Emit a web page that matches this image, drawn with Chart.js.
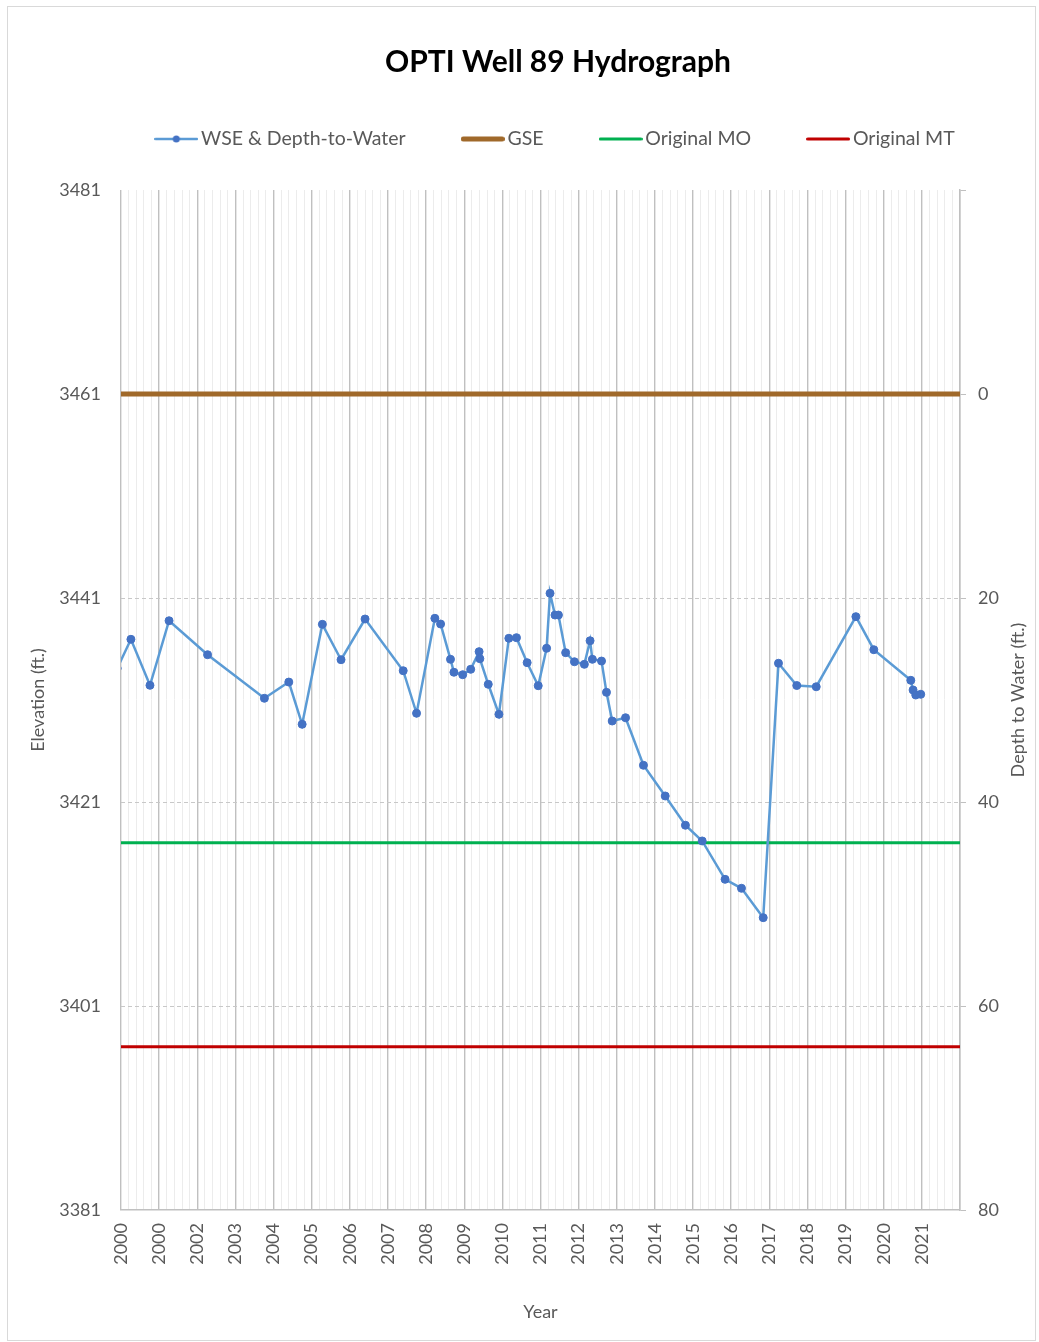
<!DOCTYPE html>
<html>
<head>
<meta charset="utf-8">
<script src="https://cdn.jsdelivr.net/npm/chart.js@4.4.1/dist/chart.umd.min.js"></script>
<style>
  html, body { margin: 0; padding: 0; background: #fff; }
  #frame { position: absolute; left: 7px; top: 6px; width: 1027px; height: 1333px; border: 1px solid #d9d9d9; }
  #wrap { position: absolute; left: 0; top: 0; width: 1039px; height: 1342px; }
</style>
</head>
<body>
<div id="frame"></div>
<div id="wrap"><canvas id="hydro"></canvas></div>
<script>
// tick labels as printed on the x axis (Excel date axis prints 2000 twice)
const yearLabels = ["2000", "2000", "2002", "2003", "2004", "2005", "2006", "2007", "2008", "2009", "2010",
    "2011", "2012", "2013", "2014", "2015", "2016", "2017", "2018", "2019", "2020", "2021"]

// WSE measurements: decimal year and elevation (ft.)
const wseYear = [1999.9, 2000.26, 2000.76, 2001.26, 2002.27, 2003.76, 2004.40, 2004.75, 2005.28, 2005.77,
    2006.40, 2007.40, 2007.75, 2008.23, 2008.38, 2008.64, 2008.73, 2008.96, 2009.17, 2009.39,
    2009.41, 2009.63, 2009.91, 2010.17, 2010.37, 2010.65, 2010.94, 2011.16, 2011.25, 2011.38,
    2011.47, 2011.66, 2011.89, 2012.15, 2012.30, 2012.36, 2012.60, 2012.73, 2012.88, 2013.23,
    2013.70, 2014.27, 2014.80, 2015.24, 2015.84, 2016.27, 2016.84, 2017.24, 2017.72, 2018.23,
    2019.27, 2019.74, 2020.71, 2020.77, 2020.84, 2020.97]
const wseElev = [3434.1, 3436.95, 3432.44, 3438.77, 3435.44, 3431.17, 3432.76, 3428.62, 3438.42, 3434.95,
    3438.94, 3433.87, 3429.70, 3439.01, 3438.45, 3434.99, 3433.72, 3433.48, 3434.01, 3435.74,
    3435.05, 3432.54, 3429.60, 3437.05, 3437.11, 3434.66, 3432.40, 3436.07, 3441.46, 3439.33,
    3439.33, 3435.64, 3434.75, 3434.50, 3436.81, 3434.99, 3434.82, 3431.75, 3428.94, 3429.26,
    3424.60, 3421.59, 3418.72, 3417.18, 3413.42, 3412.54, 3409.66, 3434.60, 3432.42, 3432.30,
    3439.17, 3435.93, 3432.93, 3431.98, 3431.49, 3431.56]

const gseElev = 3461
const moElev = 3417
const mtElev = 3397

const elevTicks = [3381, 3401, 3421, 3441, 3461, 3481]
const depthTicks = [-20, 0, 20, 40, 60, 80]
const xMin = 2000
const xMax = 2022
const minorPerYear = 5

const FONT = "Lato, 'Open Sans', sans-serif"
const GREY = "#595959"
const WSE_LINE = "#5b9bd5"
const WSE_DOT = "#4472c4"
const GSE_COLOR = "#a0692a"
const MO_COLOR = "#00b050"
const MT_COLOR = "#c00000"

const makeIcon = (color, width, dot) => {
    const c = document.createElement("canvas")
    c.width = 44
    c.height = 12
    const g = c.getContext("2d")
    g.strokeStyle = color
    g.lineWidth = width
    g.lineCap = "round"
    g.beginPath()
    g.moveTo(width / 2, 6)
    g.lineTo(44 - width / 2, 6)
    g.stroke()
    if (dot) {
        g.fillStyle = dot
        g.beginPath()
        g.arc(22, 6, 3.5, 0, Math.PI * 2)
        g.fill()
    }
    return c
}

const legendIcons = [
    makeIcon(WSE_LINE, 2.5, WSE_DOT),
    makeIcon(GSE_COLOR, 5),
    makeIcon(MO_COLOR, 3),
    makeIcon(MT_COLOR, 3)
]

// Chart.js turns right-hand axis titles top-to-bottom; Excel reads it bottom-to-top
const sideTitle = {
    id: "sideTitle",
    afterDraw(chart, args, opts) {
        const { ctx, chartArea } = chart
        ctx.save()
        ctx.translate(opts.x, (chartArea.top + chartArea.bottom) / 2)
        ctx.rotate(-Math.PI / 2)
        ctx.font = "18px " + FONT
        ctx.fillStyle = GREY
        ctx.textAlign = "center"
        ctx.textBaseline = "middle"
        ctx.fillText(opts.text, 0, 0)
        ctx.restore()
    }
}

const flat = v => [{ x: xMin, y: v }, { x: xMax, y: v }]
const isMajor = v => Math.abs(v - Math.round(v)) < 1e-6
const tickFont = { family: FONT, size: 18 }

new Chart(document.getElementById("hydro"), {
    type: "line",
    plugins: [sideTitle],
    data: {
        datasets: [
            {
                label: "WSE & Depth-to-Water",
                data: wseYear.map((yr, i) => ({ x: yr, y: wseElev[i] })),
                borderColor: WSE_LINE,
                borderWidth: 2.5,
                pointRadius: 4,
                pointBackgroundColor: WSE_DOT,
                pointBorderColor: WSE_DOT,
                pointBorderWidth: 1,
                tension: 0,
                clip: 0,
                order: 0
            },
            { label: "GSE", data: flat(gseElev), borderColor: GSE_COLOR, borderWidth: 5, pointRadius: 0, order: 1 },
            { label: "Original MO", data: flat(moElev), borderColor: MO_COLOR, borderWidth: 3, pointRadius: 0, order: 1 },
            { label: "Original MT", data: flat(mtElev), borderColor: MT_COLOR, borderWidth: 3, pointRadius: 0, order: 1 }
        ]
    },
    options: {
        responsive: true,
        maintainAspectRatio: false,
        animation: false,
        layout: { padding: { left: 30, right: -47, top: 0, bottom: 0 } },
        plugins: {
            title: {
                display: true,
                text: "OPTI Well 89 Hydrograph",
                color: "#000000",
                font: { family: FONT, size: 30, weight: "bold" },
                padding: { top: 44, bottom: -12.75 }
            },
            // empty spacer between the legend and the plot
            subtitle: { display: true, text: "", weight: 500, font: { size: 10 }, padding: { top: 0, bottom: 19.25 } },
            legend: {
                labels: {
                    usePointStyle: true,
                    pointStyleWidth: 30,
                    padding: 62,
                    color: GREY,
                    font: { family: FONT, size: 19.5 },
                    generateLabels: chart => {
                        const items = Chart.defaults.plugins.legend.labels.generateLabels(chart)
                        items.forEach(it => { it.pointStyle = legendIcons[it.datasetIndex] })
                        return items
                    }
                }
            },
            sideTitle: { text: "Depth to Water (ft.)", x: 1018 },
            tooltip: { enabled: false }
        },
        scales: {
            x: {
                type: "linear",
                min: xMin,
                max: xMax,
                afterBuildTicks: s => {
                    const t = []
                    for (let i = 0; i <= (xMax - xMin) * minorPerYear; i++) t.push({ value: xMin + i / minorPerYear })
                    s.ticks = t
                },
                afterFit: s => { s.height = 132 },
                grid: {
                    color: ctx => (ctx.tick && isMajor(ctx.tick.value)) ? "#c0c0c0" : "#ececec",
                    lineWidth: ctx => (ctx.tick && isMajor(ctx.tick.value)) ? 1.4 : 1,
                    drawTicks: false
                },
                border: { display: true, color: "#c0c0c0", width: 1.5 },
                ticks: {
                    autoSkip: false,
                    minRotation: 90,
                    maxRotation: 90,
                    padding: 13,
                    color: GREY,
                    font: tickFont,
                    callback: v => {
                        const k = Math.round(v)
                        return isMajor(v) && k - xMin < yearLabels.length ? yearLabels[k - xMin] : ""
                    }
                },
                title: { display: true, text: "Year", color: GREY, font: tickFont, padding: { top: 0, bottom: 19 } }
            },
            y: {
                position: "left",
                min: elevTicks[0],
                max: elevTicks[elevTicks.length - 1],
                afterBuildTicks: s => { s.ticks = elevTicks.map(v => ({ value: v })) },
                afterFit: s => { s.width = 91 },
                grid: {
                    color: ctx => (ctx.tick && (ctx.tick.value === elevTicks[0] || ctx.tick.value === elevTicks[elevTicks.length - 1])) ? "rgba(0,0,0,0)" : "#c8c8c8",
                    lineWidth: 1,
                    drawTicks: false
                },
                border: { display: false, dash: [4, 3] },
                ticks: { padding: 20, color: GREY, font: tickFont, callback: v => String(v) },
                title: { display: true, text: "Elevation (ft.)", color: GREY, font: tickFont, padding: { top: -2.8, bottom: 0 } }
            },
            y2: {
                position: "right",
                min: depthTicks[0],
                max: depthTicks[depthTicks.length - 1],
                reverse: true,
                afterBuildTicks: s => { s.ticks = depthTicks.map(v => ({ value: v })) },
                afterFit: s => { s.width = 126 },
                grid: { drawOnChartArea: false, drawTicks: true, tickLength: 6, tickColor: "#c0c0c0" },
                border: { display: true, color: "#c0c0c0", width: 1.5 },
                ticks: { padding: 12, color: GREY, font: tickFont, callback: v => v < 0 ? "" : String(v) },
                title: { display: false }
            }
        }
    }
})
</script>
</body>
</html>
